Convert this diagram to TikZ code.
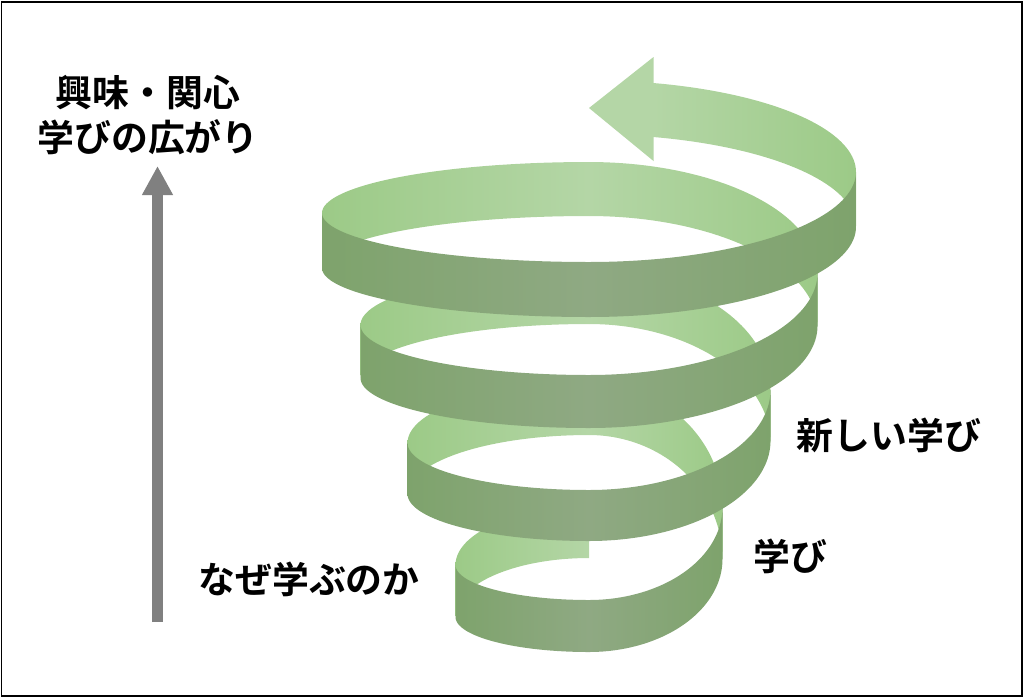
\documentclass[tikz,border=0pt]{standalone}
\usepackage{fontspec}
\newfontfamily\jpfont{Noto Sans CJK JP}[BoldFont={Noto Sans CJK JP Bold}]
\usepackage{xcolor}
\definecolor{colorFrontEdge}{HTML}{7EA36C}
\definecolor{colorFrontMid}{HTML}{8FA983}
\definecolor{colorBackEdge}{HTML}{9CCA87}
\definecolor{colorBackMid}{HTML}{B4D6A6}
\definecolor{colorAxis}{HTML}{808080}
\usetikzlibrary{arrows.meta}
\tikzset{
  backL/.style={left color=colorBackEdge, right color=colorBackMid},
  backR/.style={left color=colorBackMid, right color=colorBackEdge},
  frontL/.style={left color=colorFrontEdge, right color=colorFrontMid},
  frontR/.style={left color=colorFrontMid, right color=colorFrontEdge},
  jptext/.style={font=\jpfont\bfseries\fontsize{21}{26}\selectfont, align=center, inner sep=0pt}
}
\newcommand\quarterband[6]{%
  \path[#1] plot[domain=0:90, samples=45, variable=\ang] ({589+(#2)*#3*sin(\ang)}, {#5+(#4-#5)*cos(\ang)})
    -- plot[domain=90:0, samples=45, variable=\ang] ({589+(#2)*#3*sin(\ang)}, {#5+#6+(#4-#5)*cos(\ang)}) -- cycle;}

\begin{document}
\begin{tikzpicture}[x=0.02cm, y=-0.02cm]
\useasboundingbox (0,0) rectangle (1024,698);
\draw[line width=0.04cm] (1.5,1.5) rectangle (1021.5,695.5);

\path[backR] plot[domain=13.87:90, samples=40, variable=\ang] ({589+267*sin(\ang)}, {172-91.7*cos(\ang)})
  -- plot[domain=90:13.87, samples=40, variable=\ang] ({589+267*sin(\ang)}, {226-91.7*cos(\ang)}) -- cycle;
\fill[colorBackMid] (653.5,57) -- (589,108) -- (653.5,161) -- cycle;
\quarterband{backL}{-1}{267}{162}{213}{54}
\quarterband{backR}{1}{228.5}{162}{273}{54}
\quarterband{backL}{-1}{228.5}{271}{325}{53}
\quarterband{backR}{1}{181.5}{271}{390}{53}
\quarterband{backL}{-1}{181.5}{383}{443}{52}
\quarterband{backR}{1}{133.5}{383}{507}{52}
\quarterband{backL}{-1}{133.5}{507}{565}{51}

\quarterband{frontL}{-1}{133.5}{600}{565}{52}
\quarterband{frontR}{1}{133.5}{600}{507}{52}
\quarterband{frontL}{-1}{181.5}{490}{443}{51}
\quarterband{frontR}{1}{181.5}{490}{390}{51}
\quarterband{frontL}{-1}{228.5}{375}{325}{53}
\quarterband{frontR}{1}{228.5}{375}{273}{53}
\quarterband{frontL}{-1}{267}{262}{213}{55}
\quarterband{frontR}{1}{267}{262}{172}{55}

\coordinate (axisFoot) at (157.5,622);
\coordinate (axisHead) at (157.5,166);
\draw[colorAxis, line width=0.21cm, -{Triangle[width=0.58cm,length=0.58cm]}] (axisFoot) -- (axisHead);

\node[jptext] (interest) at (148,115) {興味・関心\\学びの広がり};
\node[jptext] (newlearn) at (889,435) {新しい学び};
\node[jptext] (learn) at (790,556) {学び};
\node[jptext] (why) at (309,579) {なぜ学ぶのか};
\end{tikzpicture}
\end{document}
